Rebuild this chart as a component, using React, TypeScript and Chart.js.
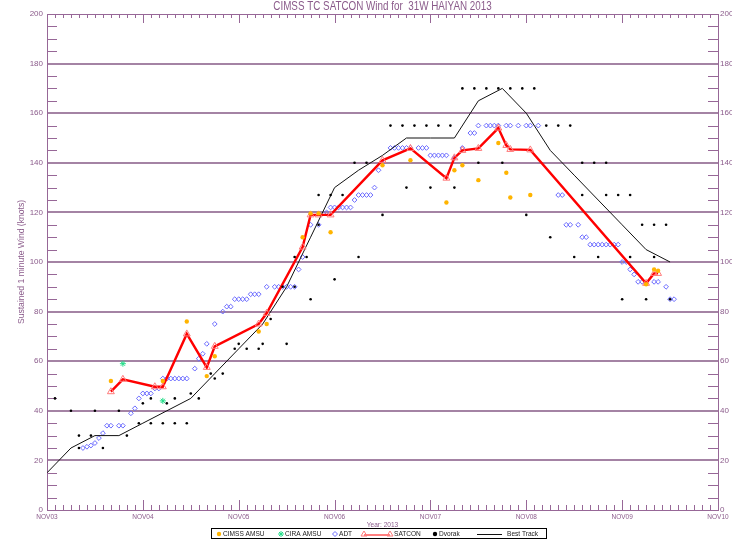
import React, { useEffect, useRef } from 'react';
import { Chart, registerables } from 'chart.js';

Chart.register(...registerables);

const TITLE = 'CIMSS TC SATCON Wind for  31W HAIYAN 2013';
const Y_TITLE = 'Sustained 1 minute Wind (knots)';
const X_TITLE = 'Year: 2013';
const DAY_LABELS = ['NOV03', 'NOV04', 'NOV05', 'NOV06', 'NOV07', 'NOV08', 'NOV09', 'NOV10'];
const LEGEND_LABELS = ['CIMSS AMSU', 'CIRA AMSU', 'ADT', 'SATCON', 'Dvorak', 'Best Track'];

// All times are hours since 03 Nov 2013 00 UTC; winds in knots.
const bestTrackHours = [0, 6, 12, 18, 24, 30, 36, 42, 48, 54, 60, 66, 72, 78, 84, 90, 96, 102, 108, 114, 120, 126, 132, 138, 144, 150, 156];
const bestTrackKnots = [15, 25, 30, 30, 35, 40, 45, 55, 65, 75, 90, 110, 130, 137, 143, 150, 150, 150, 165, 170, 160, 145, 135, 125, 115, 105, 100];

const dvorakHours = [2, 6, 8, 8, 11, 12, 14, 18, 20, 23, 24, 26, 26, 29, 30, 32, 32, 35, 36, 38, 41, 42, 44, 47, 48, 50, 53, 54, 56, 59, 60, 62, 62, 65, 66, 68, 68, 71, 72, 74, 77, 78, 80, 84, 86, 89, 90, 92, 95, 96, 98, 101, 102, 104, 107, 108, 110, 113, 114, 116, 119, 120, 122, 125, 126, 128, 131, 132, 134, 134, 137, 138, 140, 140, 143, 144, 146, 146, 149, 150, 152, 152, 155, 156];
const dvorakKnots = [45, 40, 30, 25, 30, 40, 25, 40, 30, 35, 43, 35, 45, 35, 43, 45, 35, 35, 47, 45, 55, 53, 55, 65, 67, 65, 65, 67, 77, 90, 67, 90, 102, 102, 85, 115, 127, 127, 93, 127, 140, 102, 140, 119, 155, 155, 130, 155, 155, 130, 155, 155, 130, 170, 170, 140, 170, 170, 140, 170, 170, 119, 170, 155, 110, 155, 155, 102, 140, 127, 140, 102, 140, 127, 127, 85, 127, 102, 115, 85, 115, 102, 115, 85];

const adtHours = [9, 10, 11, 12, 13, 14, 15, 16, 18, 19, 21, 22, 23, 24, 25, 26, 27, 28, 29, 30, 31, 32, 33, 34, 35, 37, 38, 39, 40, 42, 44, 45, 46, 47, 48, 49, 50, 51, 52, 53, 55, 57, 58, 59, 60, 61, 62, 63, 64, 66, 68, 70, 71, 72, 73, 74, 75, 76, 77, 78, 79, 80, 81, 82, 83, 84, 86, 87, 88, 89, 90, 91, 93, 94, 95, 96, 97, 98, 99, 100, 102, 104, 106, 107, 108, 110, 111, 112, 113, 115, 116, 118, 120, 121, 123, 128, 129, 130, 131, 133, 134, 135, 136, 137, 138, 139, 140, 141, 142, 143, 144, 145, 146, 147, 148, 149, 152, 153, 155, 156, 157];
const adtKnots = [25, 25.5, 26, 27, 29, 31, 34, 34, 34, 34, 39, 41, 45, 47, 47, 47, 49, 49, 53, 53, 53, 53, 53, 53, 53, 57, 61, 63, 67, 75, 80, 82, 82, 85, 85, 85, 85, 87, 87, 87, 90, 90, 90, 90, 90, 90, 90, 97, 102, 115, 115, 120, 122, 122, 122, 122, 122, 122, 125, 127, 127, 127, 127, 130, 137, 140, 146, 146, 146, 146, 146, 146, 146, 146, 146, 143, 143, 143, 143, 143, 142, 146, 152, 152, 155, 155, 155, 155, 155, 155, 155, 155, 155, 155, 155, 127, 127, 115, 115, 115, 110, 110, 107, 107, 107, 107, 107, 107, 107, 107, 100, 100, 97, 95, 92, 92, 92, 92, 90, 85, 85];

const satconHours = [16, 19, 27, 29, 35, 40, 42, 53, 55, 64, 66, 68, 71, 84, 91, 100, 102, 104, 108, 113, 115, 116, 121, 150, 152, 153];
const satconKnots = [47.7, 52.7, 49.7, 49.7, 71, 57.5, 66, 75, 79.3, 106, 119, 119, 119, 141, 145.8, 133.8, 142, 145, 145.8, 154, 147, 145.4, 145.2, 91.4, 95.4, 95.4];

const cimssHours = [16, 29, 35, 40, 42, 53, 55, 64, 66, 68, 71, 84, 91, 100, 102, 104, 108, 113, 115, 116, 121, 150, 152, 153];
const cimssKnots = [52, 52, 76, 54, 62, 72, 75, 110, 119.6, 119.6, 112, 139, 141, 124, 137, 139, 133, 148, 136, 126, 127, 91, 97, 96.5];

const ciraHours = [19, 29];
const ciraKnots = [59, 44];

const LINE = '#976797';
const GRID = '#a483a4';
const TEXT = '#8a5a8a';
const ORANGE = '#ffb400';
const GREEN = '#22dd88';
const BLUE = '#6a6aff';
const RED = '#ff0000';
const PINK = '#ff7a7a';
const SANS = "'Liberation Sans', Arial, sans-serif";

const pts = (hs: number[], ks: number[]) => hs.map((h, i) => ({ x: h, y: ks[i] }));

// condensed text helper (horizontal squeeze, as in the reference's narrow font)
function narrowText(ctx: CanvasRenderingContext2D, text: string, x: number, y: number, size: number, align: CanvasTextAlign, color: string) {
  ctx.save();
  ctx.translate(x, y);
  ctx.scale(0.82, 1);
  ctx.font = `${size}px ${SANS}`;
  ctx.textAlign = align;
  ctx.textBaseline = 'middle';
  ctx.fillStyle = color;
  ctx.fillText(text, 0, 0);
  ctx.restore();
}

const decor = {
  id: 'decor',
  beforeDatasetsDraw(chart: any) {
    const { ctx, chartArea: a, scales } = chart;
    const xs = scales.x;
    const ys = scales.y;
    ctx.save();
    ctx.strokeStyle = LINE;
    ctx.lineWidth = 1;
    ctx.beginPath();
    for (let v = 5; v < 200; v += 5) {
      if (v % 20 === 0) continue;
      const py = Math.round(ys.getPixelForValue(v)) + 0.5;
      ctx.moveTo(a.left, py);
      ctx.lineTo(a.left + 10, py);
      ctx.moveTo(a.right, py);
      ctx.lineTo(a.right - 10, py);
    }
    for (let h = 2; h < 168; h += 2) {
      const px = Math.round(xs.getPixelForValue(h)) + 0.5;
      const major = h % 24 === 0;
      ctx.moveTo(px, a.bottom);
      ctx.lineTo(px, a.bottom - (major ? 10 : 5));
      ctx.moveTo(px, a.top);
      ctx.lineTo(px, a.top + (major ? 9 : 4));
    }
    const t = Math.round(a.top) + 0.5;
    ctx.moveTo(a.left, t);
    ctx.lineTo(a.right, t);
    ctx.stroke();
    ctx.restore();
  },
  afterDraw(chart: any) {
    const { ctx, chartArea: a } = chart;
    ctx.save();
    const cx = (a.left + a.right) / 2;
    narrowText(ctx, TITLE, cx, 7, 12, 'center', TEXT);
    narrowText(ctx, X_TITLE, cx, 525, 8, 'center', TEXT);
    // legend
    const top = 528.5;
    const bottom = 538.5;
    const cy = 534;
    ctx.strokeStyle = '#000';
    ctx.lineWidth = 1;
    ctx.strokeRect(211.5, top, 335, bottom - top);
    const textX = [223, 285, 339, 394, 439, 507];
    LEGEND_LABELS.forEach((lab, i) => narrowText(ctx, lab, textX[i], cy, 8, 'left', '#222'));
    // CIMSS marker
    ctx.fillStyle = ORANGE;
    ctx.beginPath();
    ctx.arc(219, cy, 2.2, 0, Math.PI * 2);
    ctx.fill();
    // CIRA star
    ctx.strokeStyle = GREEN;
    ctx.beginPath();
    ctx.moveTo(278, cy); ctx.lineTo(284, cy);
    ctx.moveTo(281, cy - 3); ctx.lineTo(281, cy + 3);
    ctx.moveTo(279, cy - 2); ctx.lineTo(283, cy + 2);
    ctx.moveTo(283, cy - 2); ctx.lineTo(279, cy + 2);
    ctx.stroke();
    // ADT diamond
    ctx.strokeStyle = BLUE;
    ctx.beginPath();
    ctx.moveTo(335, cy - 2.5); ctx.lineTo(337.5, cy); ctx.lineTo(335, cy + 2.5); ctx.lineTo(332.5, cy); ctx.closePath();
    ctx.stroke();
    // SATCON line + triangles
    ctx.strokeStyle = RED;
    ctx.beginPath();
    ctx.moveTo(364, cy + 1); ctx.lineTo(390, cy + 1);
    ctx.stroke();
    ctx.strokeStyle = PINK;
    [364, 390].forEach((tx) => {
      ctx.beginPath();
      ctx.moveTo(tx, cy - 3); ctx.lineTo(tx + 3, cy + 2); ctx.lineTo(tx - 3, cy + 2); ctx.closePath();
      ctx.stroke();
    });
    // Dvorak dot
    ctx.fillStyle = '#000';
    ctx.beginPath();
    ctx.arc(435, cy, 2.2, 0, Math.PI * 2);
    ctx.fill();
    // Best track line
    ctx.strokeStyle = '#111';
    ctx.beginPath();
    ctx.moveTo(477, cy + 0.5); ctx.lineTo(502, cy + 0.5);
    ctx.stroke();
    ctx.restore();
  },
};

export default function App() {
  const ref = useRef<HTMLCanvasElement | null>(null);
  useEffect(() => {
    document.body.style.margin = '0';
    const canvas = ref.current;
    if (!canvas) return;
    const numTicks = {
      stepSize: 20,
      color: TEXT,
      font: { family: SANS, size: 8 },
    };
    const chart = new Chart(canvas, {
      type: 'scatter',
      data: {
        datasets: [
          { label: 'CIMSS AMSU', data: pts(cimssHours, cimssKnots), showLine: false, pointStyle: 'circle', pointRadius: 2.2, pointBackgroundColor: ORANGE, pointBorderColor: ORANGE, pointBorderWidth: 0 },
          { label: 'CIRA AMSU', data: pts(ciraHours, ciraKnots), showLine: false, pointStyle: 'star', pointRadius: 3, pointBorderColor: GREEN, pointBackgroundColor: GREEN, pointBorderWidth: 1 },
          { label: 'Dvorak', data: pts(dvorakHours, dvorakKnots), showLine: false, pointStyle: 'circle', pointRadius: 1.3, pointBackgroundColor: '#000', pointBorderColor: '#000', pointBorderWidth: 0 },
          { label: 'SATCON', data: pts(satconHours, satconKnots), showLine: true, borderColor: RED, borderWidth: 2.4, pointStyle: 'triangle', pointRadius: 4, pointBorderColor: PINK, pointBackgroundColor: 'rgba(0,0,0,0)', pointBorderWidth: 1 },
          { label: 'Best Track', data: pts(bestTrackHours, bestTrackKnots), showLine: true, borderColor: '#111', borderWidth: 1, pointRadius: 0 },
          { label: 'ADT', data: pts(adtHours, adtKnots), showLine: false, pointStyle: 'rectRot', pointRadius: 2.4, pointBorderColor: BLUE, pointBackgroundColor: 'rgba(0,0,0,0)', pointBorderWidth: 1 },
        ] as any,
      },
      options: {
        animation: false,
        responsive: false,
        events: [],
        layout: { padding: { top: 14, left: 0, right: 0, bottom: 0 } },
        elements: { line: { tension: 0 } },
        plugins: { legend: { display: false }, tooltip: { enabled: false }, title: { display: false } },
        scales: {
          x: {
            type: 'linear',
            position: 'bottom',
            min: 0,
            max: 168,
            afterFit: (s: any) => { s.height = 29; },
            ticks: {
              stepSize: 24,
              autoSkip: false,
              maxRotation: 0,
              padding: 3,
              color: TEXT,
              font: { family: SANS, size: 6.5 },
              callback: (v: any) => DAY_LABELS[Math.round(Number(v) / 24)] ?? '',
            },
            grid: { drawOnChartArea: false, drawTicks: false },
            border: { color: LINE, width: 1 },
          },
          y: {
            type: 'linear',
            position: 'left',
            min: 0,
            max: 200,
            afterFit: (s: any) => { s.width = 47; },
            ticks: { ...numTicks, padding: 4 },
            grid: {
              drawTicks: false,
              lineWidth: 2,
              color: (c: any) => (c.tick && (c.tick.value === 0 || c.tick.value === 200) ? 'rgba(0,0,0,0)' : GRID),
            },
            border: { color: LINE, width: 1 },
            title: { display: true, text: Y_TITLE, color: TEXT, font: { family: SANS, size: 8.6 }, padding: { top: 16, bottom: 0 } },
          },
          y2: {
            type: 'linear',
            position: 'right',
            min: 0,
            max: 200,
            afterFit: (s: any) => { s.width = 14; },
            ticks: { ...numTicks, padding: 2 },
            grid: { drawOnChartArea: false, drawTicks: false },
            border: { color: LINE, width: 1 },
          },
        },
      } as any,
      plugins: [decor],
    });
    return () => chart.destroy();
  }, []);
  return <canvas ref={ref} width={732} height={539} style={{ display: 'block' }} />;
}
